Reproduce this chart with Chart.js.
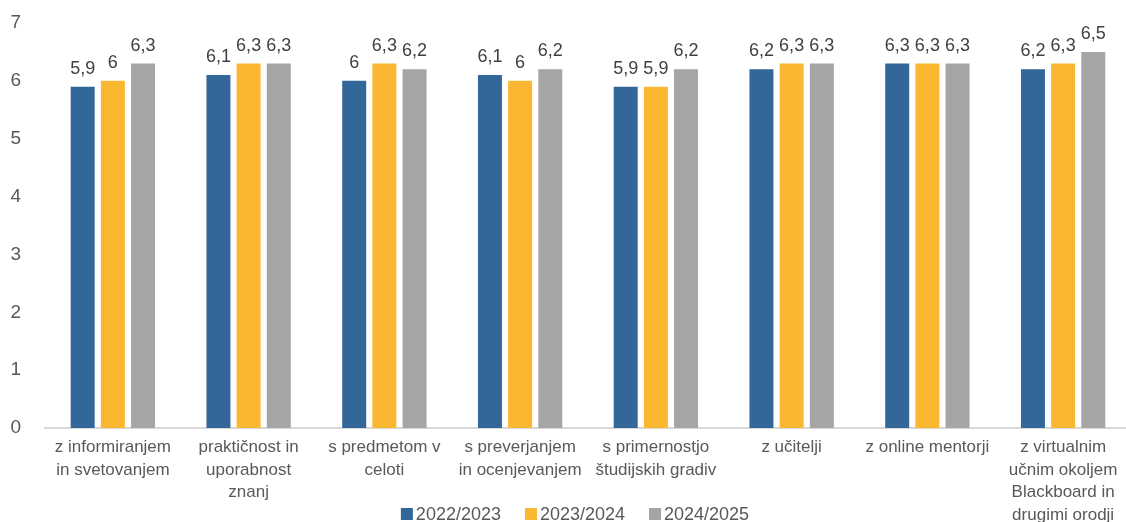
<!DOCTYPE html>
<html lang="sl">
<head>
    <meta charset="UTF-8">
    <title>Zadovoljstvo po letih</title>
    <script src="https://cdn.jsdelivr.net/npm/chart.js"></script>
    <style>
        html, body {
            margin: 0;
            padding: 0;
            background: #ffffff;
            overflow: hidden;
        }
        /* the plot area runs a few px past the right edge in the original */
        #wrap {
            width: 1131px;
            height: 522px;
        }
    </style>
</head>
<body>
    <div id="wrap"><canvas id="barChart"></canvas></div>

    <script>
        // Categories (multi-line labels as in the original)
        const categories = [
            ['z informiranjem', 'in svetovanjem'],
            ['praktičnost in', 'uporabnost', 'znanj'],
            ['s predmetom v', 'celoti'],
            ['s preverjanjem', 'in ocenjevanjem'],
            ['s primernostjo', 'študijskih gradiv'],
            ['z učitelji'],
            ['z online mentorji'],
            ['z virtualnim', 'učnim okoljem', 'Blackboard in', 'drugimi orodji']
        ];

        const years = ['2022/2023', '2023/2024', '2024/2025'];

        const values2022 = [5.9, 6.1, 6.0, 6.1, 5.9, 6.2, 6.3, 6.2];
        const values2023 = [6.0, 6.3, 6.3, 6.0, 5.9, 6.3, 6.3, 6.3];
        const values2024 = [6.3, 6.3, 6.2, 6.2, 6.2, 6.3, 6.3, 6.5];

        const yTicks = [0, 1, 2, 3, 4, 5, 6, 7];

        const colors = ['#336699', '#FAB731', '#A5A5A5'];
        const textColor = '#595959';
        const fontFamily = '"Liberation Sans", Arial, sans-serif';

        // write numbers with a decimal comma
        function fmt(v) {
            return String(v).replace('.', ',');
        }

        // value labels above the bars
        const valueLabels = {
            id: 'valueLabels',
            afterDatasetsDraw(chart) {
                const ctx = chart.ctx;
                ctx.save();
                ctx.font = '18px ' + fontFamily;
                ctx.fillStyle = '#404040';
                ctx.textAlign = 'center';
                ctx.textBaseline = 'alphabetic';
                chart.data.datasets.forEach((ds, i) => {
                    chart.getDatasetMeta(i).data.forEach((bar, j) => {
                        ctx.fillText(fmt(ds.data[j]), bar.x, bar.y - 13);
                    });
                });
                ctx.restore();
            }
        };

        // legend drawn at the bottom, overlapping the label area like the original
        const bottomLegend = {
            id: 'bottomLegend',
            afterDraw(chart) {
                const ctx = chart.ctx;
                const box = 12, gap = 3, spacing = 24;
                ctx.save();
                ctx.font = '18px ' + fontFamily;
                ctx.textBaseline = 'middle';
                const widths = chart.data.datasets.map(ds => box + gap + ctx.measureText(ds.label).width);
                const total = widths.reduce((a, b) => a + b, 0) + spacing * (widths.length - 1);
                let x = 575 - total / 2;
                const y = 514;
                chart.data.datasets.forEach((ds, i) => {
                    ctx.fillStyle = ds.backgroundColor;
                    ctx.fillRect(x, y - box / 2, box, box);
                    ctx.fillStyle = textColor;
                    ctx.fillText(ds.label, x + box + gap, y + 1);
                    x += widths[i] + spacing;
                });
                ctx.restore();
            }
        };

        const ctx = document.getElementById('barChart').getContext('2d');
        const barChart = new Chart(ctx, {
            type: 'bar',
            data: {
                labels: categories,
                datasets: [
                    { label: years[0], data: values2022, backgroundColor: colors[0] },
                    { label: years[1], data: values2023, backgroundColor: colors[1] },
                    { label: years[2], data: values2024, backgroundColor: colors[2] }
                ]
            },
            options: {
                responsive: true,
                maintainAspectRatio: false,
                animation: false,
                layout: {
                    padding: { top: 23, right: 0, bottom: 0, left: 0 }
                },
                datasets: {
                    bar: {
                        categoryPercentage: 0.667,
                        barPercentage: 0.795
                    }
                },
                plugins: {
                    legend: { display: false },
                    tooltip: { enabled: false }
                },
                scales: {
                    x: {
                        grid: { display: false, drawTicks: false },
                        border: { display: true, color: '#D9D9D9', width: 2 },
                        ticks: {
                            color: textColor,
                            padding: 8,
                            maxRotation: 0,
                            autoSkip: false,
                            font: { family: fontFamily, size: 17, lineHeight: 1.33 }
                        },
                        afterFit(scale) {
                            scale.height = 94;
                        }
                    },
                    y: {
                        min: 0,
                        max: 7,
                        afterBuildTicks(scale) {
                            scale.ticks = yTicks.map(v => ({ value: v }));
                        },
                        grid: { display: false, drawTicks: false },
                        border: { display: false },
                        ticks: {
                            color: textColor,
                            padding: 24,
                            font: { family: fontFamily, size: 19 }
                        },
                        afterFit(scale) {
                            scale.width = 45;
                            scale.paddingTop = 11;
                            scale.paddingBottom = 11;
                        }
                    }
                }
            },
            plugins: [valueLabels, bottomLegend]
        });
    </script>
</body>
</html>
